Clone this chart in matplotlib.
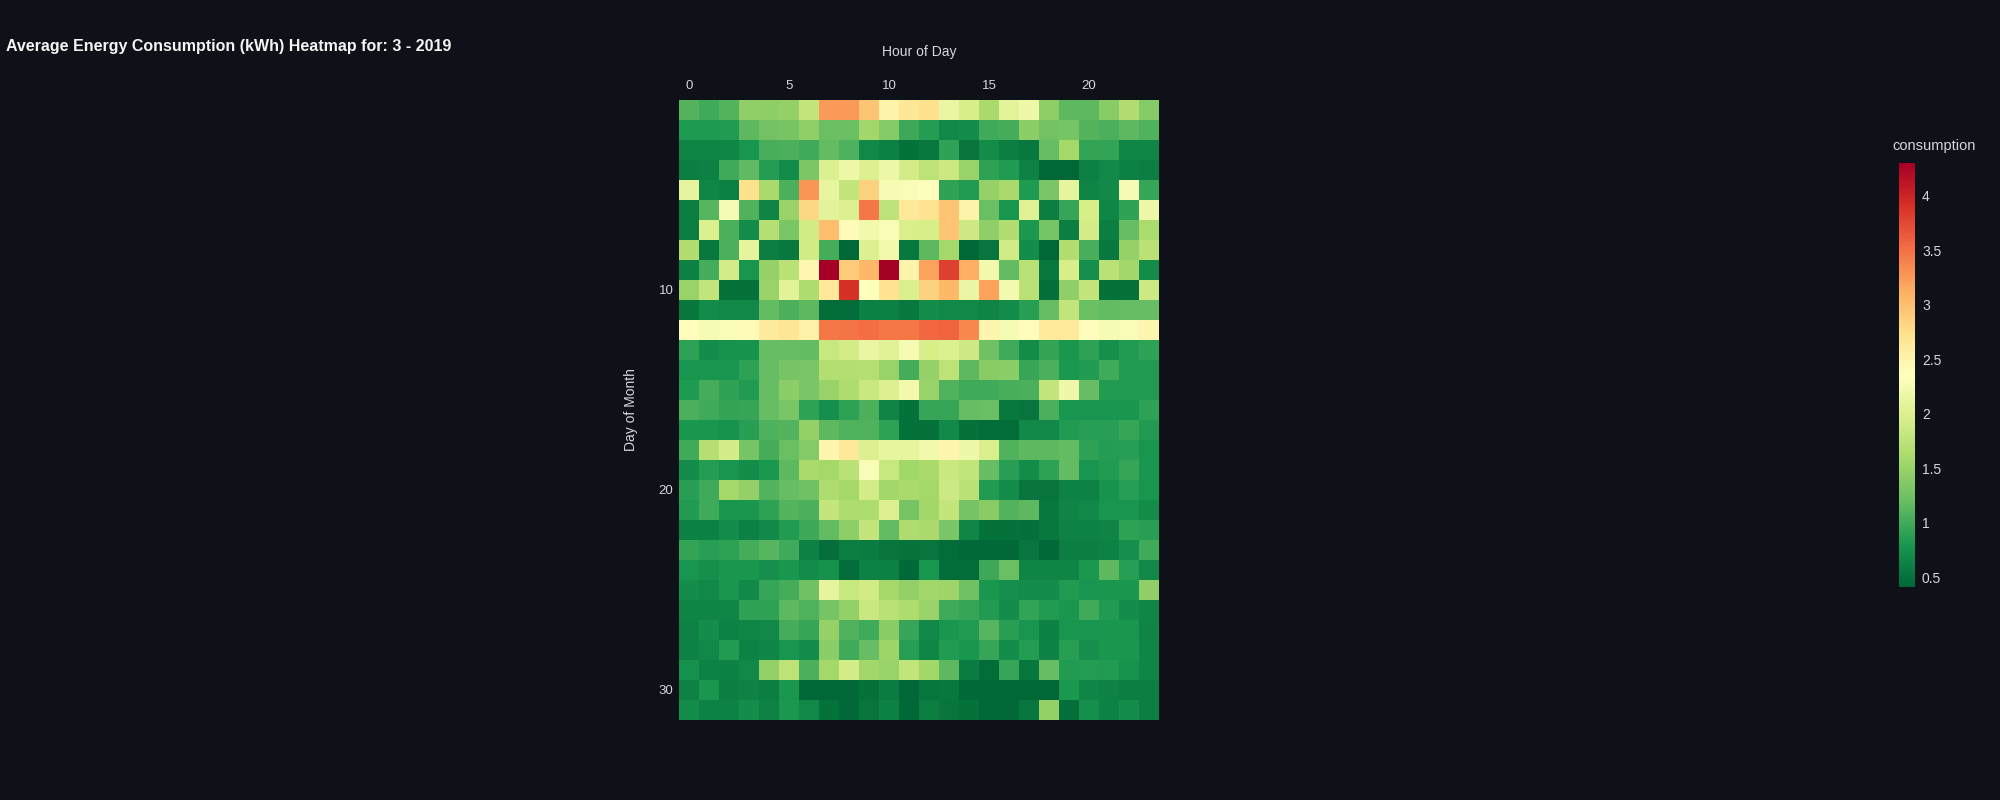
import matplotlib.pyplot as plt
import numpy as np

plt.rcParams.update(
    {
        'font.family': ['Liberation Sans', 'DejaVu Sans'],
        'axes.labelsize': 10,
        'xtick.labelsize': 9.5,
        'ytick.labelsize': 9.5,
    }
)

BG = '#0e1117'
TEXT = '#d5d8de'

hours = list(range(24))
days = list(range(1, 32))

# kWh per (day, hour)
consumption = [
    [1.10, 1.00, 1.10, 1.45, 1.43, 1.47, 1.80, 3.25, 3.25, 2.95, 2.50, 2.65, 2.72, 2.15, 1.95, 1.60, 2.07, 2.20, 1.43, 1.15, 1.15, 1.40, 1.67, 1.37],
    [0.83, 0.83, 0.85, 1.15, 1.27, 1.30, 1.45, 1.23, 1.23, 1.55, 1.37, 0.98, 0.86, 0.68, 0.72, 1.00, 1.03, 1.42, 1.27, 1.30, 1.10, 1.05, 1.14, 1.08],
    [0.65, 0.64, 0.66, 0.78, 1.04, 1.06, 1.00, 1.18, 1.07, 0.67, 0.62, 0.50, 0.55, 0.92, 0.52, 0.70, 0.60, 0.55, 1.20, 1.57, 0.93, 0.93, 0.66, 0.66],
    [0.60, 0.62, 1.00, 1.16, 0.86, 0.70, 1.33, 2.00, 2.20, 2.02, 2.18, 1.92, 1.75, 1.86, 1.50, 0.90, 0.84, 0.63, 0.41, 0.42, 0.62, 0.69, 0.62, 0.60],
    [2.10, 0.66, 0.62, 2.72, 1.60, 1.05, 3.28, 2.12, 1.80, 2.85, 2.27, 2.30, 2.35, 0.92, 0.85, 1.48, 1.60, 0.83, 1.32, 2.10, 0.64, 0.69, 2.27, 0.95],
    [0.60, 1.12, 2.27, 1.08, 0.64, 1.50, 2.80, 2.08, 2.02, 3.45, 1.77, 2.63, 2.70, 2.95, 2.50, 1.23, 0.78, 2.05, 0.60, 0.95, 1.95, 0.66, 0.92, 2.20],
    [0.60, 2.00, 1.05, 0.70, 1.70, 1.32, 1.90, 3.00, 2.40, 2.23, 2.30, 1.97, 1.95, 2.95, 1.87, 1.45, 1.67, 0.82, 1.30, 0.60, 1.92, 0.60, 1.19, 1.62],
    [1.67, 0.55, 1.05, 2.10, 0.60, 0.55, 1.90, 1.02, 0.41, 2.02, 2.23, 0.55, 1.15, 1.57, 0.41, 0.52, 1.90, 0.72, 0.41, 1.66, 1.04, 0.55, 1.48, 1.72],
    [0.62, 1.02, 1.92, 0.78, 1.48, 1.73, 2.45, 4.30, 2.90, 3.05, 4.30, 2.50, 3.20, 3.80, 3.10, 2.22, 1.18, 1.72, 0.55, 1.95, 0.74, 1.72, 1.55, 0.71],
    [1.50, 1.80, 0.50, 0.50, 1.50, 2.06, 1.65, 2.62, 3.90, 2.36, 2.70, 1.98, 2.85, 3.05, 2.15, 3.20, 2.25, 1.73, 0.48, 1.45, 1.80, 0.50, 0.50, 1.87],
    [0.54, 0.70, 0.67, 0.68, 1.17, 1.06, 1.14, 0.47, 0.47, 0.62, 0.62, 0.56, 0.72, 0.67, 0.67, 0.65, 0.70, 0.88, 1.20, 1.78, 1.23, 1.18, 1.20, 1.20],
    [2.38, 2.27, 2.30, 2.40, 2.60, 2.67, 2.52, 3.45, 3.47, 3.52, 3.45, 3.45, 3.55, 3.58, 3.35, 2.47, 2.27, 2.38, 2.60, 2.60, 2.38, 2.27, 2.30, 2.47],
    [0.90, 0.72, 0.76, 0.76, 1.19, 1.19, 1.17, 1.83, 1.92, 2.15, 2.05, 2.27, 1.95, 2.00, 1.87, 1.25, 1.00, 0.70, 0.93, 0.80, 0.90, 0.74, 0.84, 0.90],
    [0.78, 0.78, 0.78, 0.90, 1.19, 1.30, 1.32, 1.68, 1.68, 1.70, 1.50, 1.02, 1.48, 1.75, 1.14, 1.40, 1.42, 0.95, 1.06, 0.82, 0.85, 1.00, 0.84, 0.85],
    [0.83, 1.02, 0.92, 0.84, 1.19, 1.42, 1.32, 1.50, 1.65, 1.85, 2.02, 2.22, 1.50, 1.08, 1.00, 1.00, 1.04, 1.06, 1.80, 2.20, 1.20, 0.85, 0.85, 0.85],
    [1.05, 1.00, 0.93, 0.95, 1.19, 1.32, 0.90, 0.73, 0.90, 1.06, 0.65, 0.50, 0.95, 0.95, 1.20, 1.22, 0.56, 0.52, 1.06, 0.78, 0.78, 0.78, 0.80, 0.90],
    [0.80, 0.80, 0.76, 0.88, 1.07, 1.10, 1.46, 1.14, 1.08, 1.08, 0.90, 0.50, 0.50, 0.69, 0.50, 0.46, 0.46, 0.69, 0.67, 0.85, 0.88, 0.88, 0.95, 0.84],
    [1.00, 1.70, 1.94, 1.30, 1.02, 1.22, 1.37, 2.47, 2.62, 2.02, 2.12, 2.12, 2.22, 2.47, 2.20, 1.97, 1.08, 1.15, 1.14, 1.18, 0.92, 0.86, 0.88, 0.78],
    [0.72, 0.86, 0.78, 0.72, 0.82, 1.15, 1.60, 1.58, 1.73, 2.30, 1.83, 1.55, 1.60, 1.85, 1.78, 1.20, 0.88, 0.70, 0.90, 1.18, 0.78, 0.85, 0.95, 0.78],
    [0.88, 1.00, 1.58, 1.46, 1.10, 1.20, 1.25, 1.65, 1.58, 1.92, 1.56, 1.60, 1.58, 1.87, 1.73, 0.84, 0.72, 0.52, 0.52, 0.63, 0.63, 0.76, 0.88, 0.78],
    [0.84, 1.00, 0.80, 0.80, 0.90, 1.10, 1.06, 1.80, 1.65, 1.65, 2.02, 1.30, 1.56, 1.80, 1.28, 1.40, 1.10, 1.14, 0.55, 0.65, 0.67, 0.78, 0.78, 0.70],
    [0.62, 0.62, 0.72, 0.62, 0.69, 0.85, 0.98, 1.18, 1.43, 1.80, 1.17, 1.65, 1.60, 1.32, 0.66, 0.50, 0.50, 0.48, 0.55, 0.63, 0.63, 0.65, 0.90, 0.88],
    [0.93, 0.88, 0.90, 1.02, 1.12, 1.00, 0.62, 0.48, 0.60, 0.58, 0.52, 0.51, 0.52, 0.46, 0.43, 0.43, 0.44, 0.52, 0.44, 0.60, 0.60, 0.63, 0.73, 1.00],
    [0.78, 0.74, 0.80, 0.80, 0.74, 0.80, 0.70, 0.75, 0.47, 0.63, 0.62, 0.44, 0.80, 0.47, 0.47, 0.98, 1.22, 0.65, 0.65, 0.65, 0.82, 1.14, 0.88, 0.68],
    [0.72, 0.67, 0.80, 0.69, 0.95, 1.02, 1.25, 2.10, 1.83, 1.90, 1.58, 1.46, 1.56, 1.53, 1.25, 0.80, 0.73, 0.70, 0.72, 0.85, 0.78, 0.80, 0.80, 1.45],
    [0.65, 0.65, 0.66, 0.92, 0.90, 1.15, 1.08, 1.30, 1.46, 1.85, 1.73, 1.65, 1.50, 1.00, 0.95, 0.85, 0.72, 0.93, 0.85, 0.80, 1.00, 0.85, 0.72, 0.66],
    [0.63, 0.72, 0.63, 0.66, 0.68, 1.02, 0.95, 1.48, 1.08, 1.00, 1.40, 0.95, 0.68, 0.80, 0.84, 1.12, 0.88, 0.78, 0.62, 0.78, 0.78, 0.80, 0.80, 0.65],
    [0.63, 0.67, 0.85, 0.63, 0.66, 0.78, 0.72, 1.42, 1.00, 1.20, 1.53, 0.88, 0.66, 0.84, 0.80, 0.95, 0.72, 0.86, 0.63, 0.88, 0.74, 0.80, 0.80, 0.66],
    [0.75, 0.63, 0.62, 0.68, 1.46, 1.75, 1.06, 1.58, 1.94, 1.56, 1.50, 1.78, 1.56, 1.14, 0.58, 0.46, 0.95, 0.54, 1.20, 0.84, 0.86, 0.84, 0.76, 0.66],
    [0.63, 0.80, 0.60, 0.63, 0.60, 0.80, 0.43, 0.42, 0.44, 0.50, 0.58, 0.42, 0.52, 0.56, 0.44, 0.44, 0.41, 0.41, 0.41, 0.82, 0.66, 0.63, 0.60, 0.60],
    [0.72, 0.63, 0.63, 0.72, 0.63, 0.82, 0.68, 0.50, 0.44, 0.52, 0.62, 0.42, 0.60, 0.52, 0.50, 0.42, 0.42, 0.52, 1.46, 0.48, 0.74, 0.63, 0.72, 0.60],
]

Z_MIN, Z_MAX = 0.41, 4.30


def heatmap_plot(month, year):
    data = np.array(consumption)

    fig = plt.figure(figsize=(20, 8), dpi=100)
    fig.set_facecolor(BG)

    ax = fig.add_axes([0.3395, 0.1, 0.24, 0.775])
    ax.set_facecolor(BG)
    img = ax.imshow(
        data,
        cmap='RdYlGn_r',
        vmin=Z_MIN,
        vmax=Z_MAX,
        aspect='auto',
        interpolation='nearest',
        extent=(hours[0] - 0.5, hours[-1] + 0.5, days[-1] + 0.5, days[0] - 0.5),
    )

    for spine in ax.spines.values():
        spine.set_visible(False)

    ax.xaxis.tick_top()
    ax.xaxis.set_label_position('top')
    ax.set_xticks([0, 5, 10, 15, 20])
    ax.set_yticks([10, 20, 30])
    ax.tick_params(axis='both', length=0, colors=TEXT)
    ax.tick_params(axis='x', pad=6)
    ax.tick_params(axis='y', pad=4)
    ax.set_xlabel('Hour of Day', color=TEXT, labelpad=17)
    ax.set_ylabel('Day of Month', color=TEXT, labelpad=15)

    cax = fig.add_axes([0.9495, 0.26625, 0.008, 0.53])
    cbar = fig.colorbar(img, cax=cax)
    cbar.outline.set_visible(False)
    cbar.set_ticks([0.5, 1, 1.5, 2, 2.5, 3, 3.5, 4])
    cbar.set_ticklabels(['0.5', '1', '1.5', '2', '2.5', '3', '3.5', '4'])
    cax.tick_params(length=0, pad=5, labelsize=10, colors=TEXT)
    fig.text(0.967, 1 - 146 / 800, 'consumption', color=TEXT,
             fontsize=10.5, ha='center', va='center')

    fig.text(0.003, 1 - 46 / 800,
             f'Average Energy Consumption (kWh) Heatmap for: {month} - {year}',
             color='#f4f4f4', fontsize=11.5, fontweight='bold',
             ha='left', va='center')

    fig.savefig('out.png', facecolor=BG)


if __name__ == '__main__':
    heatmap_plot(3, 2019)
